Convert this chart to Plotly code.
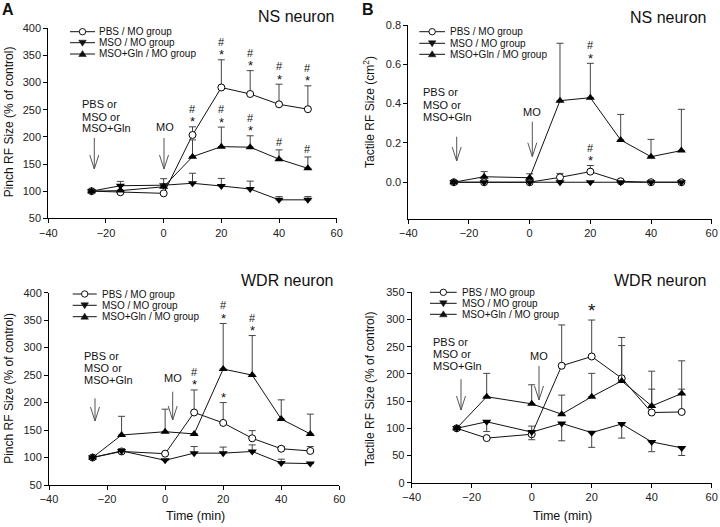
import plotly.graph_objects as go

W, H = 720, 527
FONT = "Liberation Sans, Arial, sans-serif"

# time points (min)
time = [-25, -15, 0, 10, 20, 30, 40, 50]
x_ticks = [-40, -20, 0, 20, 40, 60]

# A, NS neuron: pinch RF size (% of control)
ns_pinch_pbs = [100, 98, 96, 203.5, 291, 279, 260, 251]
ns_pinch_pbs_err = [0, 0, 0, 15, 51, 43, 37, 43]
ns_pinch_mso = [100, 110, 111, 114.5, 109.5, 104, 84, 84]
ns_pinch_mso_err = [0, 8, 12, 18.5, 14, 14.5, 6, 6]
ns_pinch_gln = [100, 101, 108, 163.5, 182, 181, 159, 142]
ns_pinch_gln_err = [0, 0, 5, 31, 36, 21, 17, 21]

# B, NS neuron: tactile RF size (cm2)
ns_tact_pbs = [0, 0, 0, 0.025, 0.054, 0.005, 0, 0]
ns_tact_pbs_err = [0, 0, 0, 0.02, 0.031, 0, 0, 0]
ns_tact_mso = [0, 0, 0, 0, 0, 0, 0, 0]
ns_tact_mso_err = [0, 0, 0, 0, 0, 0, 0, 0]
ns_tact_gln = [0, 0.028, 0.023, 0.415, 0.430, 0.215, 0.130, 0.161]
ns_tact_gln_err = [0, 0.026, 0.02, 0.292, 0.175, 0.13, 0.088, 0.21]

# A, WDR neuron: pinch RF size (% of control)
wdr_pinch_pbs = [100, 111, 107, 182, 163, 135, 116, 112]
wdr_pinch_pbs_err = [0, 4, 0, 41, 37, 14, 4, 8]
wdr_pinch_mso = [100, 112, 95, 108, 108, 111, 90, 89]
wdr_pinch_mso_err = [0, 4, 0, 12, 11, 12, 7, 0]
wdr_pinch_gln = [100, 141, 147, 143, 261, 250, 170, 143]
wdr_pinch_gln_err = [0, 34, 41, 0, 83, 72, 35, 36]

# B, WDR neuron: tactile RF size (% of control), MSO error bars point down
wdr_tact_pbs = [100, 82, 89, 215, 232, 192, 129, 130]
wdr_tact_pbs_err = [0, 0, 15, 75, 67, 75, 43, 42]
wdr_tact_mso = [100, 112, 93, 109, 92, 108, 75, 64]
wdr_tact_mso_err = [0, 18, 14, 32, 27, 26, 18, 14]
wdr_tact_gln = [100, 158, 145, 126, 158, 187, 141, 164]
wdr_tact_gln_err = [0, 43, 35, 35, 43, 65, 64, 60]

legend_names = ["PBS / MO group", "MSO / MO group", "MSO+Gln / MO group"]

# significance marks: (panel, x, top of error bar, text)
sig_panel = [1, 1, 1, 1, 1, 1, 1, 1, 1,
             2, 2,
             3, 3, 3, 3,
             4]
sig_x = [10, 20, 20, 30, 30, 40, 40, 50, 50,
         20, 20,
         10, 20, 20, 30,
         20]
sig_top = [218.5, 342, 218, 322, 202, 297, 176, 294, 163,
           0.605, 0.085,
           223, 344, 200, 322,
           299]
sig_text = ["#*", "#*", "#*", "#*", "#*", "#*", "#", "#*", "#",
            "#*", "#*",
            "#*", "#*", "*", "#*",
            "*"]


def px(x):
    return x / W


def py(y):
    return 1 - y / H


fig = go.Figure()

panels = [
    dict(xd=(48.3, 336.7), yd=(218.3, 28.3), yr=[50, 400],
         yt=list(range(50, 401, 50)), fmt="",
         data=[(ns_pinch_pbs, ns_pinch_pbs_err, None),
               (ns_pinch_mso, ns_pinch_mso_err, None),
               (ns_pinch_gln, ns_pinch_gln_err, None)]),
    dict(xd=(408.3, 711.7), yd=(219, 25), yr=[-0.187, 0.8],
         yt=[0, 0.2, 0.4, 0.6, 0.8], fmt=".1f",
         data=[(ns_tact_pbs, ns_tact_pbs_err, None),
               (ns_tact_mso, ns_tact_mso_err, None),
               (ns_tact_gln, ns_tact_gln_err, None)]),
    dict(xd=(49, 339.3), yd=(485, 292.7), yr=[50, 400],
         yt=list(range(50, 401, 50)), fmt="",
         data=[(wdr_pinch_pbs, wdr_pinch_pbs_err, None),
               (wdr_pinch_mso, wdr_pinch_mso_err, None),
               (wdr_pinch_gln, wdr_pinch_gln_err, None)]),
    dict(xd=(411.7, 711.7), yd=(482.7, 292.3), yr=[0, 350],
         yt=list(range(0, 351, 50)), fmt="",
         data=[(wdr_tact_pbs, wdr_tact_pbs_err, None),
               (wdr_tact_mso, None, wdr_tact_mso_err),
               (wdr_tact_gln, wdr_tact_gln_err, None)]),
]

styles = [
    dict(symbol="circle", size=7, color="white", line=dict(color="black", width=1)),
    dict(symbol="triangle-down", size=8, color="black", line=dict(color="black", width=0)),
    dict(symbol="triangle-up", size=8, color="black", line=dict(color="black", width=0)),
]

axis_common = dict(showline=True, linecolor="black", linewidth=1, ticks="outside",
                   ticklen=4, tickcolor="black", showgrid=False, zeroline=False,
                   automargin=False,
                   tickfont=dict(family=FONT, size=11, color="#222"))

for i, p in enumerate(panels):
    n = i + 1
    xa = "x" if n == 1 else "x%d" % n
    ya = "y" if n == 1 else "y%d" % n
    fig.layout["xaxis" if n == 1 else "xaxis%d" % n] = dict(
        domain=[px(p["xd"][0]), px(p["xd"][1])], range=[-40, 60],
        tickvals=x_ticks, anchor=ya, **axis_common)
    fig.layout["yaxis" if n == 1 else "yaxis%d" % n] = dict(
        domain=[py(p["yd"][0]), py(p["yd"][1])], range=p["yr"],
        tickvals=p["yt"], tickformat=p["fmt"], anchor=xa, **axis_common)
    for (vals, up, down), st in zip(p["data"], styles):
        err = dict(type="data", symmetric=False,
                   array=up if up is not None else [0] * len(vals),
                   arrayminus=down if down is not None else [0] * len(vals),
                   color="#444", thickness=1, width=3.5)
        fig.add_trace(go.Scatter(
            x=time, y=vals, xaxis=xa, yaxis=ya, mode="lines+markers",
            line=dict(color="#111", width=1), marker=st, error_y=err,
            showlegend=False, cliponaxis=False))

shapes = []
annotations = []


def txt(x, y, s, size=11, xanchor="center", yanchor="middle", angle=0):
    annotations.append(dict(
        x=px(x), y=py(y), xref="paper", yref="paper", text=s, showarrow=False,
        xanchor=xanchor, yanchor=yanchor, textangle=angle,
        font=dict(family=FONT, size=size, color="#111"),
    ))


def arrow(x, y0, y1):
    # vertical open arrow pointing down, pixel coords
    shapes.append(dict(type="line", xref="paper", yref="paper",
                       x0=px(x), x1=px(x), y0=py(y0), y1=py(y1),
                       line=dict(color="#555", width=1)))
    path = "M %f %f L %f %f L %f %f" % (px(x - 4.5), py(y1 - 14), px(x), py(y1),
                                        px(x + 4.5), py(y1 - 14))
    shapes.append(dict(type="path", xref="paper", yref="paper", path=path,
                       line=dict(color="#555", width=1)))


def legend(lx0, lx1, tx, rows):
    cx = (lx0 + lx1) / 2
    for k, (name, yy) in enumerate(zip(legend_names, rows)):
        shapes.append(dict(type="line", xref="paper", yref="paper",
                           x0=px(lx0), x1=px(lx1), y0=py(yy), y1=py(yy),
                           line=dict(color="#111", width=1)))
        if k == 0:
            shapes.append(dict(type="circle", xref="paper", yref="paper",
                               x0=px(cx - 3.2), x1=px(cx + 3.2),
                               y0=py(yy + 3.2), y1=py(yy - 3.2),
                               fillcolor="white", line=dict(color="#111", width=1)))
        elif k == 1:
            path = "M %f %f L %f %f L %f %f Z" % (px(cx - 3.8), py(yy - 2.5), px(cx + 3.8),
                                                  py(yy - 2.5), px(cx), py(yy + 3.5))
            shapes.append(dict(type="path", xref="paper", yref="paper", path=path,
                               fillcolor="#111", line=dict(color="#111", width=0.5)))
        else:
            path = "M %f %f L %f %f L %f %f Z" % (px(cx - 3.8), py(yy + 2.5), px(cx + 3.8),
                                                  py(yy + 2.5), px(cx), py(yy - 3.5))
            shapes.append(dict(type="path", xref="paper", yref="paper", path=path,
                               fillcolor="#111", line=dict(color="#111", width=0.5)))
        txt(tx, yy, name, size=10, xanchor="left")


legend(70, 95, 97, [31.7, 42.7, 54])
legend(419.3, 445, 448.3, [31.7, 43.3, 54.3])
legend(72.7, 96.7, 100, [294, 305.3, 316.7])
legend(430, 456.7, 460, [292.3, 303.3, 314.3])

# panel letters and titles
txt(7.5, 9, "<b>A</b>", size=16)
txt(367.5, 9, "<b>B</b>", size=16)
txt(296, 17, "NS neuron", size=16)
txt(668, 17.5, "NS neuron", size=16)
txt(287, 280, "WDR neuron", size=16)
txt(659.5, 280.5, "WDR neuron", size=16)

# axis titles
txt(9, 122.3, "Pinch RF Size (% of control)", size=12, angle=-90)
txt(369, 112, "Tactile RF Size (cm<sup>2</sup>)", size=12, angle=-90)
txt(9.5, 388.3, "Pinch RF Size (% of control)", size=12, angle=-90)
txt(370, 388.3, "Tactile RF Size (% of control)", size=12, angle=-90)
txt(196, 516, "Time (min)", size=12.5)
txt(562, 516, "Time (min)", size=12.5)

# injection labels and arrows
for lx, rows, ax, a0, a1, mx, my, mox, m0, m1 in [
        (80, [104, 116.7, 128.3], 94.3, 138, 169, 164.5, 127.3, 164, 138, 169),
        (421, [92.3, 105.3, 117.3], 456.7, 136.7, 161, 531.7, 112.3, 532.3, 121.7, 156.7),
        (81.7, [356, 368.3, 380], 95, 398.3, 421, 173.3, 378.3, 172.7, 391.7, 420),
        (430.7, [341.7, 354.3, 366], 461, 379.3, 410, 539, 356, 539, 366, 400)]:
    for s, yy in zip(["PBS or", "MSO or", "MSO+Gln"], rows):
        txt(lx, yy, s, size=11, xanchor="left")
    arrow(ax, a0, a1)
    txt(mx, my, "MO", size=11)
    arrow(mox, m0, m1)

# significance marks above the error bars
for pnl, x, top, s in zip(sig_panel, sig_x, sig_top, sig_text):
    xa = "x" if pnl == 1 else "x%d" % pnl
    ya = "y" if pnl == 1 else "y%d" % pnl
    big = pnl == 4
    if "*" in s:
        annotations.append(dict(x=x, y=top, xref=xa, yref=ya, text="*", showarrow=False,
                                xanchor="center", yanchor="middle", yshift=10 if big else 5,
                                font=dict(family=FONT, size=19 if big else 13, color="#111")))
    if "#" in s:
        annotations.append(dict(x=x, y=top, xref=xa, yref=ya, text="#", showarrow=False,
                                xanchor="center", yanchor="middle",
                                yshift=18 if "*" in s else 8,
                                font=dict(family=FONT, size=11, color="#111")))

fig.update_layout(
    width=W, height=H, autosize=False,
    margin=dict(l=0, r=0, t=0, b=0),
    paper_bgcolor="white", plot_bgcolor="white",
    showlegend=False, shapes=shapes, annotations=annotations,
    font=dict(family=FONT, color="#111"),
)

# the page body has a default 8px margin; drop it so the figure fills the window
fig.write_html("out.html", config={"displayModeBar": False},
               post_script="document.body.style.margin = '0';")
